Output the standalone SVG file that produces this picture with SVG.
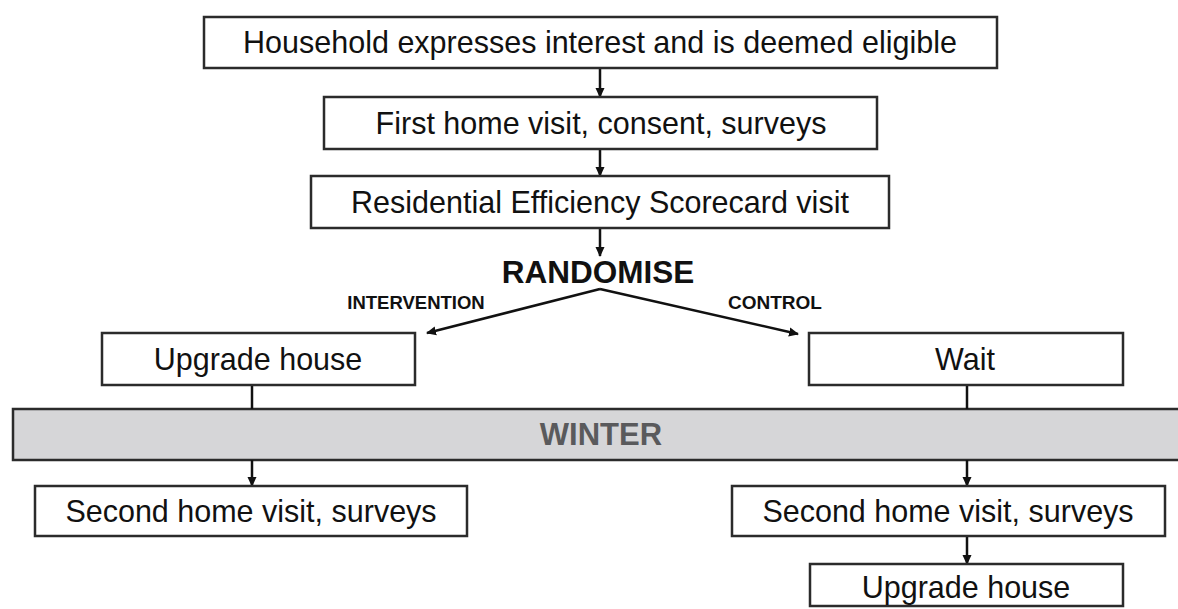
<svg xmlns="http://www.w3.org/2000/svg" width="1178" height="609" viewBox="0 0 1178 609">
<style>
.box{fill:#fff;stroke:#2b2b2b;stroke-width:2.5}
.t{font-family:"Liberation Sans",Arial,sans-serif;font-size:30.5px;fill:#111;text-anchor:middle}
.b{font-family:"Liberation Sans",Arial,sans-serif;font-weight:bold;fill:#111;text-anchor:middle}
.c{stroke:#111;stroke-width:2.5;fill:none}
</style>
<defs>
<marker id="ah" markerWidth="10" markerHeight="10" refX="9" refY="5" orient="auto" markerUnits="userSpaceOnUse">
<path d="M0,0.5 L10,5 L0,9.5 Z" fill="#111"/>
</marker>
</defs>
<rect width="1178" height="609" fill="#fff"/>
<g id="winter">
<rect x="13" y="409" width="1175" height="51" fill="#d6d6d8" stroke="#2b2b2b" stroke-width="2.5"/>
<text x="601" y="445" class="b" style="font-size:31px;fill:#5a5a5c">WINTER</text>
</g>
<g id="connectors">
<line class="c" x1="600" y1="68" x2="600" y2="97" marker-end="url(#ah)"/>
<line class="c" x1="600" y1="149" x2="600" y2="176" marker-end="url(#ah)"/>
<line class="c" x1="600" y1="228" x2="600" y2="256" marker-end="url(#ah)"/>
<line class="c" x1="600" y1="289" x2="427" y2="333" marker-end="url(#ah)"/>
<line class="c" x1="600" y1="289" x2="798" y2="334" marker-end="url(#ah)"/>
<line class="c" x1="252" y1="385" x2="252" y2="409"/>
<line class="c" x1="967" y1="385" x2="967" y2="409"/>
<line class="c" x1="252" y1="460" x2="252" y2="486" marker-end="url(#ah)"/>
<line class="c" x1="967" y1="460" x2="967" y2="486" marker-end="url(#ah)"/>
<line class="c" x1="967" y1="536" x2="967" y2="564" marker-end="url(#ah)"/>
</g>
<g id="n1"><rect class="box" x="204" y="17" width="793" height="51"/><text class="t" x="600" y="53">Household expresses interest and is deemed eligible</text></g>
<g id="n2"><rect class="box" x="324" y="97" width="553" height="52"/><text class="t" x="601" y="134">First home visit, consent, surveys</text></g>
<g id="n3"><rect class="box" x="311" y="176" width="578" height="52"/><text class="t" x="600" y="213">Residential Efficiency Scorecard visit</text></g>
<g id="randomise"><text class="b" x="598" y="283" style="font-size:31.5px">RANDOMISE</text></g>
<g id="lbl-int"><text class="b" x="416" y="309" style="font-size:18.5px">INTERVENTION</text></g>
<g id="lbl-ctl"><text class="b" x="775" y="309" style="font-size:19px">CONTROL</text></g>
<g id="n4"><rect class="box" x="102" y="333" width="313" height="52"/><text class="t" x="258" y="370">Upgrade house</text></g>
<g id="n5"><rect class="box" x="809" y="333" width="314" height="52"/><text class="t" x="965" y="370">Wait</text></g>
<g id="n6"><rect class="box" x="35" y="486" width="432" height="50"/><text class="t" x="251" y="522">Second home visit, surveys</text></g>
<g id="n7"><rect class="box" x="732" y="486" width="433" height="50"/><text class="t" x="948" y="522">Second home visit, surveys</text></g>
<g id="n8"><rect class="box" x="810" y="564" width="313" height="42"/><text class="t" x="966" y="598">Upgrade house</text></g>
</svg>
